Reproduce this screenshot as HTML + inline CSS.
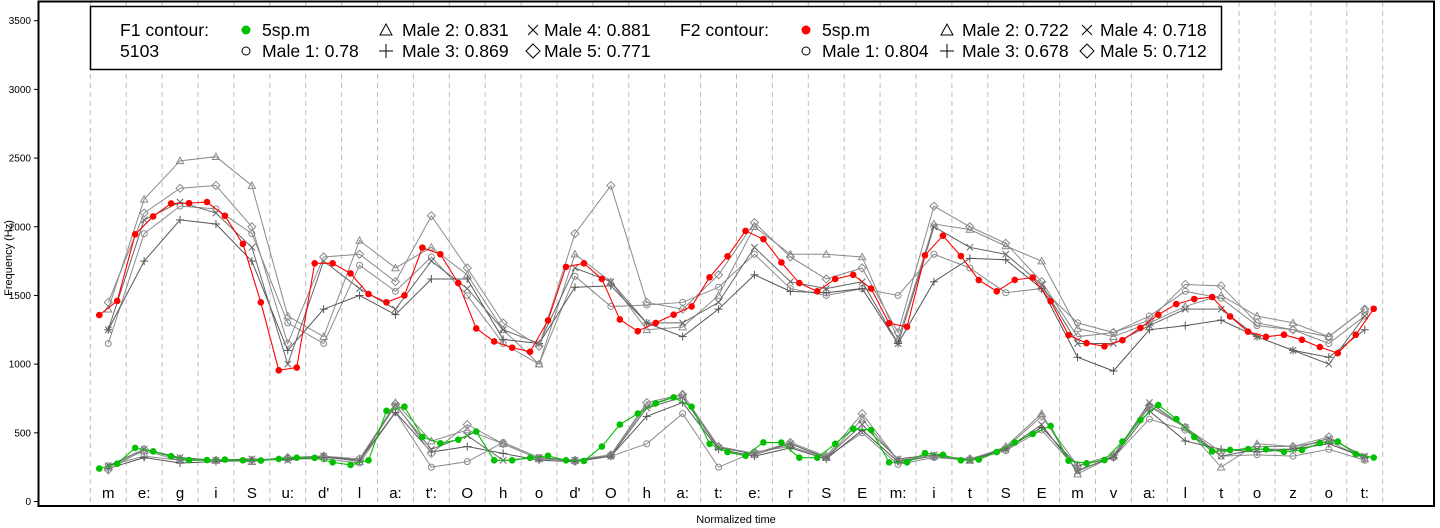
<!DOCTYPE html>
<html><head><meta charset="utf-8"><style>
html,body{margin:0;padding:0;background:#fff;}
svg{display:block;font-family:"Liberation Sans",Arial,sans-serif;}
</style></head><body>
<svg id="chart" width="1440" height="528" viewBox="0 0 1440 528" xmlns="http://www.w3.org/2000/svg">
<rect x="0" y="0" width="1440" height="528" fill="#fff"/>
<g id="grid"></g>
<g id="series"></g>
<g id="axes"></g>
<rect x="38.5" y="1.5" width="1395.5" height="504.5" fill="none" stroke="#000" stroke-width="2"/>
<text x="12" y="258" transform="rotate(-90 12 258)" font-size="11" text-anchor="middle">Frequency (Hz)</text>
<text x="736" y="523" font-size="11" text-anchor="middle">Normalized time</text>
<g>
<rect x="90.5" y="6.5" width="1131" height="63" fill="#fff" stroke="#000" stroke-width="1.5"/>
<g font-size="17.6">
<text x="120" y="36">F1 contour:</text>
<text x="120" y="57">5103</text>
<circle cx="246" cy="30" r="4.5" fill="#00c000"/>
<text x="262" y="36">5sp.m</text>
<circle cx="246" cy="51" r="4" fill="none" stroke="#000"/>
<text x="262" y="57">Male 1: 0.78</text>
<path d="M380,35 L386,24 L392,35 Z" fill="none" stroke="#000"/>
<text x="402" y="36">Male 2: 0.831</text>
<path d="M379,51 H393 M386,44 V58" stroke="#000"/>
<text x="402" y="57">Male 3: 0.869</text>
<path d="M528,25 L538,35 M538,25 L528,35" stroke="#000"/>
<text x="544" y="36">Male 4: 0.881</text>
<path d="M533,44 L540,51 L533,58 L526,51 Z" fill="none" stroke="#000"/>
<text x="544" y="57">Male 5: 0.771</text>
<text x="680" y="36">F2 contour:</text>
<circle cx="806" cy="30" r="4.5" fill="#ff0000"/>
<text x="822" y="36">5sp.m</text>
<circle cx="806" cy="51" r="4" fill="none" stroke="#000"/>
<text x="822" y="57">Male 1: 0.804</text>
<path d="M941,35 L947,24 L953,35 Z" fill="none" stroke="#000"/>
<text x="962" y="36">Male 2: 0.722</text>
<path d="M940,51 H954 M947,44 V58" stroke="#000"/>
<text x="962" y="57">Male 3: 0.678</text>
<path d="M1082,25 L1092,35 M1092,25 L1082,35" stroke="#000"/>
<text x="1100" y="36">Male 4: 0.718</text>
<path d="M1087,44 L1094,51 L1087,58 L1080,51 Z" fill="none" stroke="#000"/>
<text x="1100" y="57">Male 5: 0.712</text>
</g></g>
</svg>
<script>
const phones = ["m","e:","g","i","S","u:","d'","l","a:","t':","O","h","o","d'","O","h","a:","t:","e:","r","S","E","m:","i","t","S","E","m","v","a:","l","t","o","z","o","t:"];
const yTicks = [0,500,1000,1500,2000,2500,3000,3500];
// 5sp.m, sampled at t = i+0.25 and i+0.75
const f2Sp = [1357,1460,1945,2075,2170,2172,2180,2080,1875,1450,955,975,1734,1734,1660,1510,1450,1500,1848,1800,1590,1260,1165,1120,1090,1318,1708,1734,1620,1325,1240,1300,1360,1420,1632,1785,1970,1910,1740,1590,1530,1620,1650,1550,1297,1272,1792,1935,1787,1612,1530,1613,1630,1457,1211,1153,1130,1174,1264,1360,1437,1474,1488,1347,1236,1199,1214,1177,1124,1080,1214,1403];
const f1Sp = [240,275,390,365,330,302,302,305,300,298,310,319,318,285,266,300,660,690,470,424,450,509,300,300,318,333,300,295,400,560,640,714,758,690,420,360,333,430,429,319,319,420,530,520,285,285,352,340,300,305,360,430,492,550,297,278,302,436,593,702,600,470,365,375,382,380,362,375,425,436,345,320];
// male speakers, sampled at segment midpoints
const f2Male1 = [1150,1950,2150,2130,1950,1300,1150,1720,1530,1780,1500,1150,1000,1640,1420,1430,1450,1560,1800,1550,1500,1550,1500,1800,1700,1520,1550,1300,1230,1350,1530,1480,1280,1250,1150,1350];
const f2Male2 = [1400,2200,2480,2510,2300,1350,1200,1900,1700,1850,1650,1250,1000,1800,1600,1250,1270,1500,2000,1800,1800,1780,1180,2020,1980,1860,1750,1260,1200,1300,1420,1500,1350,1300,1200,1400];
const f2Male3 = [1250,1750,2050,2020,1750,1100,1400,1500,1360,1620,1620,1180,1150,1560,1570,1300,1200,1400,1650,1530,1520,1550,1150,1600,1770,1760,1550,1050,950,1250,1280,1320,1200,1100,1050,1250];
const f2Male4 = [1250,2050,2180,2100,1850,1000,1750,1550,1400,1750,1550,1250,1150,1700,1600,1300,1300,1450,1850,1600,1550,1600,1150,2000,1850,1800,1580,1150,1150,1280,1400,1400,1200,1100,1000,1350];
const f2Male5 = [1450,2100,2280,2300,2000,1150,1780,1800,1600,2080,1700,1300,1130,1950,2300,1450,1400,1650,2030,1780,1620,1700,1230,2150,2000,1880,1600,1200,1230,1320,1580,1570,1300,1250,1200,1400];
const f1Male1 = [260,330,300,300,300,310,310,280,650,250,290,430,320,290,330,420,640,250,360,400,320,500,270,320,300,370,520,230,320,600,520,330,340,330,380,300];
const f1Male2 = [250,370,300,300,290,320,330,290,720,440,520,420,310,300,340,700,780,400,340,420,320,600,300,330,300,400,640,200,330,690,540,250,420,400,440,310];
const f1Male3 = [240,320,280,290,300,310,320,300,650,360,400,350,300,290,330,620,720,380,330,390,310,520,290,330,310,380,540,260,320,660,440,380,360,380,420,320];
const f1Male4 = [260,380,320,300,310,300,330,300,700,380,480,300,320,300,330,680,760,390,350,420,320,560,310,340,300,380,560,220,330,720,540,330,380,380,460,330];
const f1Male5 = [230,380,310,300,300,320,330,310,710,350,560,420,310,300,340,720,780,400,350,430,330,640,300,330,310,390,620,260,340,700,540,360,400,400,470,320];

const NS="http://www.w3.org/2000/svg";
const X0=90.3, SEG=35.9;
const xScale = t => X0 + t*SEG;
const yScale = hz => 501.5 - hz*0.13737;
function mk(tag, attrs, parent){const e=document.createElementNS(NS,tag);for(const k in attrs)e.setAttribute(k,attrs[k]);parent.appendChild(e);return e;}
const grid=document.getElementById('grid'), axes=document.getElementById('axes'), ser=document.getElementById('series');

for(let i=0;i<=phones.length;i++){
  const l=mk('line',{x1:xScale(i),x2:xScale(i),y1:2,y2:505,stroke:'#bdbdbd','stroke-dasharray':'5,4'},grid);
  
  
}
phones.forEach((p,i)=>{
  const t=mk('text',{x:xScale(i+0.5),y:498,'font-size':15,'text-anchor':'middle'},grid);
  t.textContent=p;
  
  
});
yTicks.forEach(v=>{
  const y=yScale(v);
  const tk=mk('line',{x1:34,x2:38,y1:y,y2:y,stroke:'#000'},axes);
  
  
  const tx=mk('text',{x:31,y:y+3.5,'font-size':10,'text-anchor':'end'},axes);
  tx.textContent=v;
  
  
});

function marker(shape,x,y,g,col){
  let e;
  if(shape==='circle') e=mk('circle',{cx:x,cy:y,r:3,fill:'none',stroke:col},g);
  else if(shape==='tri') e=mk('path',{d:`M${x-3.6},${y+2.8} L${x},${y-3.6} L${x+3.6},${y+2.8} Z`,fill:'none',stroke:col},g);
  else if(shape==='plus') e=mk('path',{d:`M${x-4},${y} H${x+4} M${x},${y-4} V${y+4}`,stroke:col},g);
  else if(shape==='x') e=mk('path',{d:`M${x-3.2},${y-3.2} L${x+3.2},${y+3.2} M${x+3.2},${y-3.2} L${x-3.2},${y+3.2}`,stroke:col},g);
  else e=mk('path',{d:`M${x},${y-4} L${x+4},${y} L${x},${y+4} L${x-4},${y} Z`,fill:'none',stroke:col},g);
  
  
}
function drawMale(vals,shape,col,name){
  const g=mk('g',{},ser);
  
  
  const pts=vals.map((v,i)=>[xScale(i+0.5),yScale(v)]);
  const pl=mk('polyline',{points:pts.map(p=>p.join(',')).join(' '),fill:'none',stroke:col,'stroke-width':1},g);
  
  
  pts.forEach(p=>marker(shape,p[0],p[1],g,col));
}
const males=[[f2Male1,'circle','#8a8a8a','f2-male1'],[f2Male2,'tri','#8a8a8a','f2-male2'],[f2Male3,'plus','#555','f2-male3'],[f2Male4,'x','#666','f2-male4'],[f2Male5,'diamond','#8a8a8a','f2-male5'],
[f1Male1,'circle','#8a8a8a','f1-male1'],[f1Male2,'tri','#8a8a8a','f1-male2'],[f1Male3,'plus','#555','f1-male3'],[f1Male4,'x','#666','f1-male4'],[f1Male5,'diamond','#8a8a8a','f1-male5']];
males.forEach(m=>drawMale(m[0],m[1],m[2],m[3]));

function drawSp(vals,col,name){
  const g=mk('g',{},ser);
  
  
  const pts=vals.map((v,i)=>[xScale(Math.floor(i/2)+(i%2?0.75:0.25)),yScale(v)]);
  const pl=mk('polyline',{points:pts.map(p=>p.join(',')).join(' '),fill:'none',stroke:col,'stroke-width':1.1},g);
  
  
  pts.forEach(p=>{
    const c=mk('circle',{cx:p[0],cy:p[1],r:3.3,fill:col},g);
    
    
  });
}
drawSp(f2Sp,'#ff0000','f2-5sp-m');
drawSp(f1Sp,'#00c000','f1-5sp-m');
</script>
</body></html>
